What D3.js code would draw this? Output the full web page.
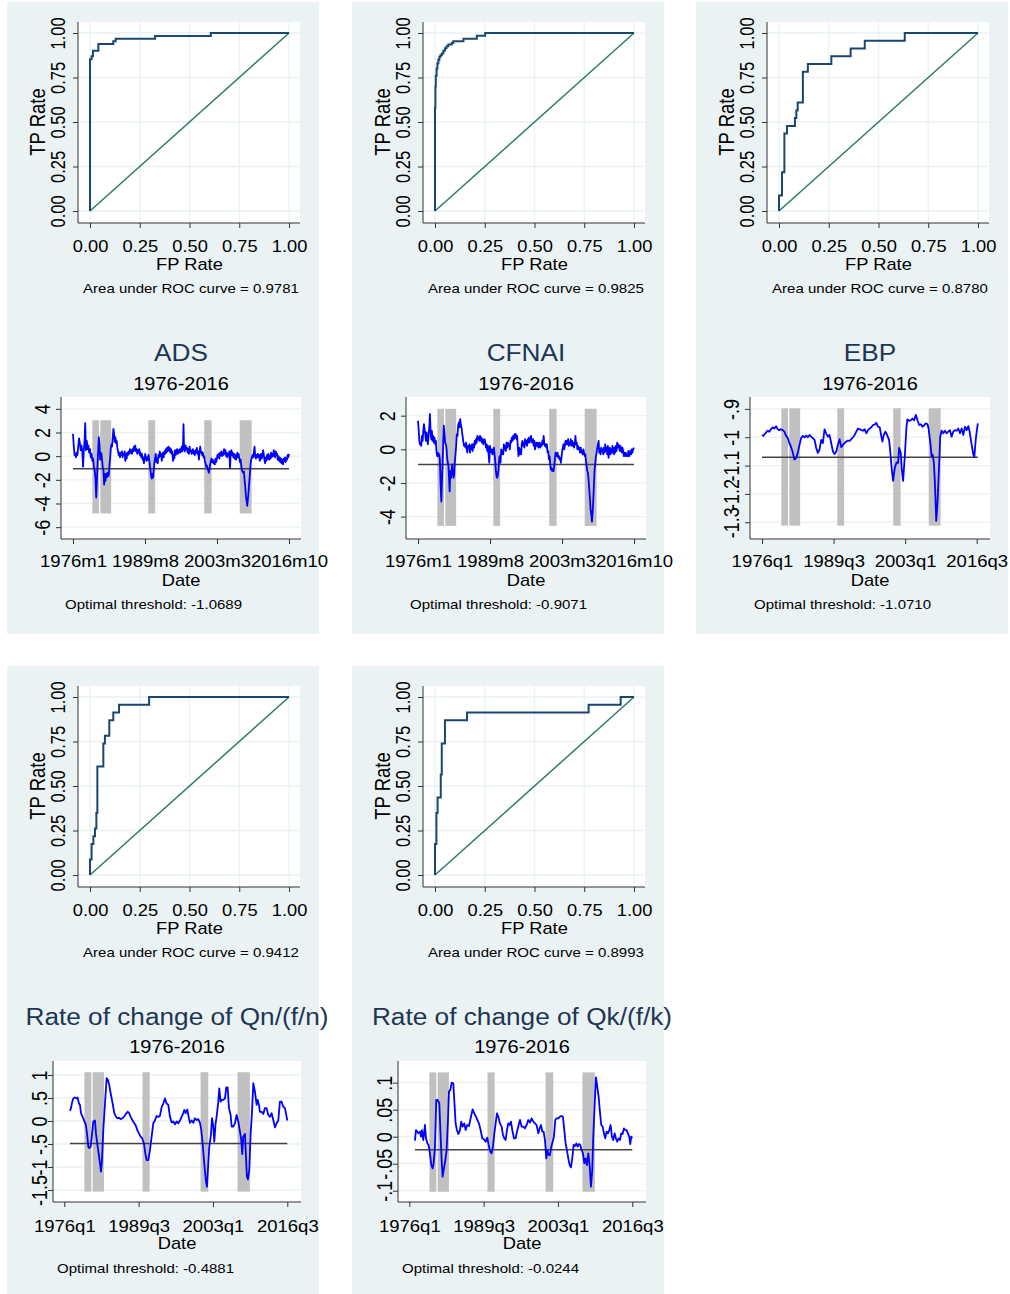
<!DOCTYPE html>
<html lang="en">
<head>
<meta charset="utf-8">
<title>ROC curves and recession indicators</title>
<script src="https://cdn.jsdelivr.net/npm/d3@7"></script>
<style>
  body { margin: 0; background: #fff; }
  text { font-family: "Liberation Sans", Arial, Helvetica, sans-serif; }
</style>
</head>
<body>
<script>
/* ---------- data ---------- */
/* ROC vertices [fp rate, tp rate] */
var rocADS = [[0,0],[0,0.852],[0.008,0.87],[0.015,0.9],[0.042,0.938],[0.117,0.953],[0.129,0.967],[0.327,0.983],[0.607,1],[1,1]];
var rocCFNAI = [[0,0],[0,0.58],[0.002,0.7],[0.004,0.76],[0.008,0.8],[0.012,0.83],[0.017,0.85],[0.022,0.865],[0.027,0.875],[0.034,0.885],[0.042,0.9],[0.05,0.915],[0.058,0.925],[0.067,0.936],[0.084,0.944],[0.092,0.953],[0.143,0.968],[0.21,0.985],[0.252,1],[1,1]];
var rocEBP = [[0,0],[0,0.087],[0.015,0.217],[0.027,0.435],[0.04,0.478],[0.08,0.522],[0.087,0.565],[0.094,0.609],[0.12,0.783],[0.145,0.826],[0.263,0.87],[0.36,0.913],[0.431,0.957],[0.632,1],[1,1]];
var rocQn = [[0,0],[0,0.087],[0.008,0.174],[0.017,0.217],[0.025,0.261],[0.032,0.348],[0.037,0.609],[0.067,0.739],[0.075,0.783],[0.097,0.87],[0.117,0.913],[0.146,0.957],[0.297,1],[1,1]];
var rocQk = [[0,0],[0,0.174],[0.007,0.348],[0.013,0.435],[0.029,0.565],[0.034,0.739],[0.05,0.87],[0.161,0.913],[0.772,0.957],[0.933,1],[1,1]];
var rocDiagonal = [[0,0],[1,1]];
var rocTicks = [0, 0.25, 0.5, 0.75, 1];
var aucLabels = ["0.9781", "0.9825", "0.8780", "0.9412", "0.8993"];

/* recession bands [start, end] in years */
var recessions = [[1979.65,1980.9],[1981.15,1983.2],[1990.2,1991.5],[2000.75,2002.15],[2007.45,2009.7]];

/* x ticks */
var monthTickVals = [1976, 1989.583, 2003.167, 2016.75];
var monthTickLabels = ["1976m1", "1989m8", "2003m3", "2016m10"];
var quarterTickVals = [1976, 1989.5, 2003, 2016.5];
var quarterTickLabels = ["1976q1", "1989q3", "2003q1", "2016q3"];

/* series [year, value] */
var adsSeries = [[1976.00,1.9],[1976.15,0.8],[1976.30,0.1],[1976.45,0.2],[1976.55,-0.1],[1976.70,0.3],[1976.85,0.1],[1977.00,0.9],[1977.15,1.5],[1977.30,1.1],[1977.45,0.5],[1977.60,0.9],[1977.75,0.4],[1977.90,-0.9],[1978.05,0.6],[1978.20,1.4],[1978.30,2.8],[1978.45,0.5],[1978.60,1.3],[1978.75,0.6],[1978.90,0.9],[1979.05,0.3],[1979.20,0.6],[1979.35,-0.1],[1979.50,0.2],[1979.65,-0.4],[1979.80,-0.2],[1979.95,-1.0],[1980.10,-1.2],[1980.25,-2.0],[1980.38,-3.5],[1980.50,-2.2],[1980.62,-0.8],[1980.75,0.5],[1980.87,1.6],[1981.00,1.0],[1981.12,-0.3],[1981.25,0.3],[1981.37,0.2],[1981.50,-0.4],[1981.62,-1.0],[1981.75,-1.2],[1981.87,-2.4],[1982.00,-1.5],[1982.12,-2.1],[1982.25,-1.5],[1982.37,-1.8],[1982.50,-1.4],[1982.62,-1.7],[1982.75,-1.6],[1982.87,-0.8],[1983.00,-0.2],[1983.12,0.6],[1983.25,1.0],[1983.37,0.8],[1983.50,1.6],[1983.62,2.3],[1983.75,1.9],[1983.87,1.2],[1984.00,1.6],[1984.12,1.1],[1984.25,1.3],[1984.37,0.7],[1984.50,0.4],[1984.62,0.1],[1984.75,0.3],[1984.87,-0.1],[1985.00,0.3],[1985.12,0.1],[1985.25,0.4],[1985.37,-0.1],[1985.50,0.2],[1985.62,0.1],[1985.75,0.4],[1985.87,-0.4],[1986.00,0.2],[1986.12,-0.2],[1986.25,0.3],[1986.37,0.1],[1986.50,0.4],[1986.62,0.2],[1986.75,0.6],[1986.87,0.3],[1987.00,0.5],[1987.12,0.2],[1987.25,0.6],[1987.37,0.4],[1987.50,0.8],[1987.62,0.5],[1987.75,0.9],[1987.87,0.4],[1988.00,0.6],[1988.12,0.2],[1988.25,0.5],[1988.37,0.3],[1988.50,0.6],[1988.62,0.1],[1988.75,0.3],[1988.87,-0.1],[1989.00,0.2],[1989.12,-0.3],[1989.25,-0.1],[1989.37,-0.6],[1989.50,-0.2],[1989.62,0.2],[1989.75,-0.1],[1989.87,-0.4],[1990.00,-0.1],[1990.12,-0.3],[1990.25,0.1],[1990.37,-0.3],[1990.50,-0.8],[1990.62,-1.2],[1990.75,-1.7],[1990.87,-1.9],[1991.00,-1.5],[1991.12,-1.8],[1991.25,-1.1],[1991.37,-0.5],[1991.50,-0.1],[1991.62,0.2],[1991.75,-0.5],[1991.87,-0.2],[1992.00,-0.6],[1992.12,0.1],[1992.25,-0.1],[1992.37,0.4],[1992.50,0.0],[1992.62,0.2],[1992.75,-0.4],[1992.87,0.1],[1993.00,0.3],[1993.12,-0.1],[1993.25,0.4],[1993.37,0.2],[1993.50,0.6],[1993.62,0.3],[1993.75,0.7],[1993.87,0.4],[1994.00,0.8],[1994.12,0.5],[1994.25,0.7],[1994.37,0.3],[1994.50,0.6],[1994.62,0.2],[1994.75,0.4],[1994.87,-0.4],[1995.00,0.1],[1995.12,-0.2],[1995.25,0.5],[1995.37,0.1],[1995.50,0.3],[1995.62,0.6],[1995.75,0.2],[1995.87,0.5],[1996.00,0.3],[1996.12,0.6],[1996.25,0.3],[1996.37,0.5],[1996.50,0.8],[1996.62,0.4],[1996.75,0.9],[1996.85,2.7],[1996.95,0.6],[1997.10,0.4],[1997.25,0.9],[1997.37,0.6],[1997.50,0.7],[1997.62,0.3],[1997.75,0.6],[1997.87,0.2],[1998.00,0.8],[1998.12,0.4],[1998.25,0.5],[1998.37,0.2],[1998.50,0.3],[1998.62,0.6],[1998.75,0.2],[1998.87,0.4],[1999.00,0.1],[1999.12,0.5],[1999.25,0.3],[1999.37,0.7],[1999.50,0.2],[1999.62,0.4],[1999.75,-0.3],[1999.87,0.3],[2000.00,0.8],[2000.12,0.3],[2000.25,0.4],[2000.37,0.1],[2000.50,0.3],[2000.62,-0.1],[2000.75,0.0],[2000.87,-0.4],[2001.00,-0.6],[2001.12,-0.9],[2001.25,-0.8],[2001.37,-1.0],[2001.50,-1.2],[2001.62,-1.4],[2001.75,-1.1],[2001.87,-0.7],[2002.00,-0.4],[2002.12,-0.2],[2002.25,-0.5],[2002.37,-0.3],[2002.50,-0.6],[2002.62,-0.5],[2002.75,-0.7],[2002.87,-0.2],[2003.00,-0.5],[2003.12,-0.3],[2003.25,0.1],[2003.37,-0.1],[2003.50,0.2],[2003.62,-0.2],[2003.75,0.3],[2003.87,0.1],[2004.00,0.4],[2004.12,0.0],[2004.25,0.3],[2004.37,0.1],[2004.50,0.6],[2004.62,0.2],[2004.75,0.5],[2004.87,0.0],[2005.00,0.3],[2005.12,-0.1],[2005.25,0.2],[2005.37,0.1],[2005.50,0.4],[2005.62,-1.0],[2005.75,0.2],[2005.87,0.5],[2006.00,0.1],[2006.12,0.3],[2006.25,-0.1],[2006.37,0.2],[2006.50,-0.2],[2006.62,0.1],[2006.75,-0.3],[2006.87,0.0],[2007.00,0.3],[2007.12,-0.1],[2007.25,0.2],[2007.37,-0.2],[2007.50,-0.5],[2007.62,-0.3],[2007.75,-0.8],[2007.87,-1.2],[2008.00,-1.3],[2008.12,-1.4],[2008.25,-1.3],[2008.37,-2.0],[2008.50,-2.6],[2008.62,-3.4],[2008.75,-3.8],[2008.87,-4.2],[2009.00,-3.6],[2009.12,-3.0],[2009.25,-2.2],[2009.37,-1.5],[2009.50,-0.7],[2009.62,-0.3],[2009.75,-0.1],[2009.87,0.1],[2010.00,-0.1],[2010.12,0.3],[2010.25,0.8],[2010.37,0.0],[2010.50,-0.2],[2010.62,0.1],[2010.75,-0.1],[2010.87,0.2],[2011.00,-0.1],[2011.12,0.1],[2011.25,-0.4],[2011.37,-0.1],[2011.50,0.2],[2011.62,-0.2],[2011.75,0.1],[2011.87,0.5],[2012.00,0.1],[2012.12,-0.3],[2012.25,-0.6],[2012.37,-0.1],[2012.50,-0.4],[2012.62,0.1],[2012.75,-0.2],[2012.87,0.2],[2013.00,-0.3],[2013.12,0.0],[2013.25,-0.2],[2013.37,0.3],[2013.50,-0.1],[2013.62,0.2],[2013.75,0.0],[2013.87,0.5],[2014.00,0.3],[2014.12,-0.1],[2014.25,0.4],[2014.37,0.1],[2014.50,0.2],[2014.62,-0.3],[2014.75,0.0],[2014.87,-0.4],[2015.00,-0.1],[2015.12,-0.5],[2015.25,-0.2],[2015.37,-0.6],[2015.50,-0.3],[2015.62,-0.7],[2015.75,-0.2],[2015.87,-0.4],[2016.00,-0.1],[2016.12,-0.5],[2016.25,-0.2],[2016.37,-0.3],[2016.50,0.1],[2016.62,-0.1],[2016.75,0.2]];

var cfnaiSeries = [[1976.00,1.7],[1976.12,1.2],[1976.25,0.5],[1976.37,0.3],[1976.50,0.4],[1976.62,0.2],[1976.75,0.8],[1976.87,0.5],[1977.00,1.1],[1977.12,1.5],[1977.25,1.2],[1977.37,0.9],[1977.50,0.5],[1977.62,1.0],[1977.75,0.6],[1977.87,0.3],[1978.00,0.8],[1978.12,1.3],[1978.25,2.1],[1978.37,1.1],[1978.50,0.6],[1978.62,1.1],[1978.75,0.5],[1978.87,0.8],[1979.00,0.4],[1979.12,0.7],[1979.25,0.3],[1979.37,0.5],[1979.50,-0.2],[1979.62,-0.4],[1979.75,-0.2],[1979.87,-0.4],[1980.00,-0.3],[1980.12,-0.6],[1980.25,-2.0],[1980.40,-3.1],[1980.52,-1.8],[1980.62,-1.0],[1980.75,0.3],[1980.87,1.4],[1981.00,0.9],[1981.12,0.4],[1981.25,0.3],[1981.37,0.1],[1981.50,-0.5],[1981.62,-0.8],[1981.75,-1.0],[1981.87,-1.8],[1981.97,-2.5],[1982.10,-1.3],[1982.22,-1.7],[1982.35,-1.2],[1982.45,-0.9],[1982.57,-1.4],[1982.70,-1.7],[1982.82,-1.5],[1982.95,-0.7],[1983.07,-0.3],[1983.20,0.2],[1983.32,0.9],[1983.45,0.8],[1983.57,1.4],[1983.70,1.6],[1983.82,1.3],[1983.95,1.8],[1984.07,1.5],[1984.20,1.3],[1984.32,1.0],[1984.45,0.7],[1984.57,0.4],[1984.70,0.2],[1984.82,0.3],[1984.95,0.1],[1985.07,0.4],[1985.20,0.0],[1985.32,-0.2],[1985.45,0.2],[1985.57,0.1],[1985.70,0.3],[1985.82,-0.2],[1985.95,0.2],[1986.07,0.0],[1986.20,0.3],[1986.32,-0.1],[1986.45,0.3],[1986.57,0.1],[1986.70,0.5],[1986.82,0.3],[1986.95,0.6],[1987.07,0.4],[1987.20,0.8],[1987.32,0.6],[1987.45,0.7],[1987.57,0.5],[1987.70,0.8],[1987.82,0.5],[1987.95,0.7],[1988.07,0.4],[1988.20,0.6],[1988.32,0.3],[1988.45,0.5],[1988.57,0.6],[1988.70,0.4],[1988.82,0.1],[1988.95,0.3],[1989.07,-0.1],[1989.20,0.2],[1989.32,-0.3],[1989.45,-0.8],[1989.57,0.2],[1989.70,-0.1],[1989.82,-0.2],[1989.95,0.0],[1990.07,-0.3],[1990.20,-0.2],[1990.32,0.1],[1990.45,-0.3],[1990.57,-0.7],[1990.70,-1.3],[1990.82,-1.6],[1990.95,-1.7],[1991.07,-1.5],[1991.20,-1.2],[1991.32,-0.5],[1991.45,-0.4],[1991.57,-0.8],[1991.70,0.0],[1991.82,-0.3],[1991.95,-0.1],[1992.07,-0.3],[1992.20,0.3],[1992.32,0.0],[1992.45,0.2],[1992.57,-0.1],[1992.70,0.4],[1992.82,0.1],[1992.95,0.4],[1993.07,0.2],[1993.20,0.3],[1993.32,0.0],[1993.45,0.5],[1993.57,0.4],[1993.70,0.7],[1993.82,0.5],[1993.95,0.8],[1994.07,0.6],[1994.20,0.9],[1994.32,0.7],[1994.45,0.9],[1994.57,0.6],[1994.70,0.8],[1994.82,0.2],[1994.95,-0.4],[1995.07,0.1],[1995.20,-0.3],[1995.32,0.0],[1995.45,-0.3],[1995.57,0.3],[1995.70,0.5],[1995.82,0.2],[1995.95,0.4],[1996.07,0.1],[1996.20,0.6],[1996.32,0.3],[1996.45,0.5],[1996.57,0.2],[1996.70,0.6],[1996.82,0.4],[1996.95,0.7],[1997.07,0.4],[1997.20,0.6],[1997.32,0.8],[1997.45,0.5],[1997.57,0.4],[1997.70,0.6],[1997.82,0.2],[1997.95,0.5],[1998.07,0.0],[1998.20,0.3],[1998.32,0.4],[1998.45,0.2],[1998.57,0.4],[1998.70,0.1],[1998.82,0.3],[1998.95,0.4],[1999.07,0.1],[1999.20,0.3],[1999.32,0.2],[1999.45,0.5],[1999.57,0.3],[1999.70,0.8],[1999.82,0.4],[1999.95,0.2],[2000.07,0.3],[2000.20,0.1],[2000.32,0.3],[2000.45,-0.2],[2000.57,-0.1],[2000.70,-0.6],[2000.82,-0.4],[2000.95,-0.9],[2001.07,-1.2],[2001.20,-1.1],[2001.32,-1.3],[2001.45,-1.2],[2001.57,-1.3],[2001.70,-1.0],[2001.82,-0.6],[2001.95,-0.2],[2002.07,-0.3],[2002.20,-0.4],[2002.32,-0.2],[2002.45,-0.5],[2002.57,-0.4],[2002.70,-0.6],[2002.82,-0.5],[2002.95,-0.8],[2003.07,-0.5],[2003.20,-0.1],[2003.32,0.1],[2003.45,0.3],[2003.57,0.0],[2003.70,0.2],[2003.82,0.5],[2003.95,0.3],[2004.07,0.5],[2004.20,0.3],[2004.32,0.6],[2004.45,0.2],[2004.57,0.4],[2004.70,0.3],[2004.82,0.6],[2004.95,0.2],[2005.07,0.5],[2005.20,0.2],[2005.32,0.4],[2005.45,0.1],[2005.57,0.3],[2005.70,0.8],[2005.82,0.3],[2005.95,0.4],[2006.07,0.0],[2006.20,0.2],[2006.32,0.0],[2006.45,0.1],[2006.57,-0.2],[2006.70,0.1],[2006.82,-0.2],[2006.95,-0.1],[2007.07,-0.3],[2007.20,0.0],[2007.32,-0.2],[2007.45,-0.4],[2007.57,-0.3],[2007.70,-0.7],[2007.82,-1.0],[2007.95,-1.3],[2008.07,-1.4],[2008.20,-1.9],[2008.32,-2.4],[2008.45,-3.0],[2008.57,-3.6],[2008.70,-3.9],[2008.82,-4.3],[2008.95,-3.7],[2009.07,-3.0],[2009.20,-2.0],[2009.32,-1.2],[2009.45,-0.8],[2009.57,-0.4],[2009.70,-0.2],[2009.82,0.1],[2009.95,0.3],[2010.07,0.5],[2010.20,-0.2],[2010.32,0.0],[2010.45,-0.3],[2010.57,0.1],[2010.70,-0.1],[2010.82,0.0],[2010.95,-0.3],[2011.07,0.1],[2011.20,-0.2],[2011.32,0.3],[2011.45,-0.1],[2011.57,0.1],[2011.70,-0.3],[2011.82,0.2],[2011.95,-0.5],[2012.07,-0.1],[2012.20,0.1],[2012.32,-0.3],[2012.45,0.0],[2012.57,-0.2],[2012.70,0.2],[2012.82,-0.1],[2012.95,-0.3],[2013.07,0.1],[2013.20,-0.2],[2013.32,0.2],[2013.45,-0.1],[2013.57,0.4],[2013.70,0.1],[2013.82,0.3],[2013.95,0.2],[2014.07,-0.1],[2014.20,0.2],[2014.32,0.0],[2014.45,-0.2],[2014.57,0.1],[2014.70,-0.1],[2014.82,-0.4],[2014.95,-0.2],[2015.07,-0.4],[2015.20,-0.2],[2015.32,-0.4],[2015.45,-0.3],[2015.57,-0.4],[2015.70,-0.1],[2015.82,-0.4],[2015.95,-0.3],[2016.07,-0.1],[2016.20,-0.3],[2016.32,0.0],[2016.45,-0.2],[2016.57,0.0],[2016.75,0.1]];

var ebpSeries = [[1976.00,-0.992],[1976.25,-0.995],[1976.63,-0.986],[1977.07,-0.977],[1977.39,-0.981],[1977.70,-0.971],[1978.02,-0.965],[1978.33,-0.969],[1978.65,-0.961],[1978.97,-0.972],[1979.28,-0.975],[1979.60,-0.972],[1979.91,-0.975],[1980.23,-0.980],[1980.54,-0.995],[1980.86,-1.003],[1981.17,-1.021],[1981.49,-1.035],[1981.80,-1.053],[1982.12,-1.079],[1982.44,-1.073],[1982.75,-1.055],[1983.07,-1.027],[1983.38,-1.003],[1983.70,-0.995],[1984.01,-1.000],[1984.33,-0.994],[1984.64,-1.000],[1984.96,-0.992],[1985.27,-0.998],[1985.59,-1.003],[1985.91,-1.009],[1986.22,-1.038],[1986.54,-1.055],[1986.85,-1.044],[1987.17,-1.009],[1987.48,-1.021],[1987.80,-0.972],[1988.11,-0.986],[1988.43,-0.998],[1988.74,-0.992],[1989.06,-1.021],[1989.38,-1.050],[1989.69,-1.059],[1990.01,-1.050],[1990.32,-1.027],[1990.64,-1.007],[1990.95,-1.035],[1991.27,-1.027],[1991.58,-1.021],[1991.90,-1.015],[1992.21,-1.012],[1992.53,-1.013],[1992.85,-1.007],[1993.16,-1.000],[1993.48,-0.992],[1993.79,-0.980],[1994.11,-0.969],[1994.42,-0.972],[1994.74,-0.975],[1995.05,-0.977],[1995.37,-0.972],[1995.68,-0.986],[1996.00,-0.975],[1996.32,-0.969],[1996.63,-0.965],[1996.95,-0.957],[1997.26,-0.955],[1997.58,-0.949],[1997.89,-0.963],[1998.21,-0.965],[1998.52,-0.998],[1998.71,-1.015],[1998.97,-0.992],[1999.28,-0.980],[1999.60,-0.992],[1999.97,-1.009],[2000.23,-1.055],[2000.48,-1.113],[2000.73,-1.154],[2001.05,-1.108],[2001.36,-1.090],[2001.68,-1.090],[2001.87,-1.038],[2002.18,-1.055],[2002.37,-1.113],[2002.62,-1.154],[2002.94,-1.067],[2003.26,-0.963],[2003.44,-0.937],[2003.76,-0.942],[2004.08,-0.940],[2004.39,-0.934],[2004.71,-0.940],[2005.02,-0.921],[2005.34,-0.940],[2005.65,-0.957],[2005.97,-0.954],[2006.28,-0.963],[2006.60,-0.957],[2006.91,-0.951],[2007.23,-0.954],[2007.42,-0.969],[2007.80,-1.027],[2007.99,-1.067],[2008.18,-1.061],[2008.43,-1.090],[2008.62,-1.160],[2008.87,-1.295],[2009.12,-1.229],[2009.38,-1.113],[2009.63,-0.998],[2009.88,-0.977],[2010.20,-0.986],[2010.51,-0.977],[2010.83,-0.986],[2011.14,-0.980],[2011.46,-0.975],[2011.77,-0.998],[2012.09,-0.980],[2012.40,-0.975],[2012.72,-0.977],[2013.03,-0.969],[2013.35,-0.986],[2013.67,-0.969],[2013.98,-0.992],[2014.30,-0.963],[2014.61,-0.975],[2014.93,-0.961],[2015.12,-0.975],[2015.56,-1.027],[2015.87,-1.061],[2016.06,-1.069],[2016.32,-1.009],[2016.50,-0.980],[2016.72,-0.951]];

var qnSeries = [[1977.03,0.22],[1977.21,0.28],[1977.45,0.42],[1977.63,0.49],[1977.94,0.51],[1978.24,0.49],[1978.42,0.51],[1978.66,0.38],[1978.84,0.35],[1979.03,0.17],[1979.33,0.09],[1979.57,0.02],[1979.93,-0.09],[1980.18,-0.34],[1980.36,-0.56],[1980.54,-0.59],[1980.78,-0.56],[1980.96,-0.38],[1981.27,-0.01],[1981.57,0.01],[1981.75,-0.27],[1981.99,-0.49],[1982.23,-0.70],[1982.48,-0.92],[1982.66,-1.10],[1982.84,-0.85],[1983.08,-0.20],[1983.39,0.38],[1983.69,0.93],[1983.93,0.89],[1984.17,0.78],[1984.47,0.57],[1984.78,0.38],[1985.08,0.17],[1985.32,0.11],[1985.62,0.06],[1985.93,0.07],[1986.23,0.04],[1986.53,0.06],[1986.84,0.09],[1987.14,0.15],[1987.50,0.20],[1987.74,0.18],[1988.05,0.09],[1988.35,0.02],[1988.65,-0.04],[1988.95,-0.09],[1989.26,-0.20],[1989.56,-0.27],[1989.86,-0.34],[1990.16,-0.38],[1990.47,-0.49],[1990.71,-0.70],[1990.95,-0.85],[1991.25,-0.85],[1991.56,-0.63],[1991.86,-0.34],[1992.16,-0.05],[1992.46,0.01],[1992.77,0.11],[1993.07,0.09],[1993.37,0.11],[1993.68,0.30],[1993.98,0.38],[1994.28,0.49],[1994.58,0.38],[1994.89,0.35],[1995.19,0.09],[1995.49,-0.03],[1995.79,-0.01],[1996.10,-0.07],[1996.40,-0.01],[1996.70,-0.05],[1997.00,0.01],[1997.31,0.09],[1997.61,0.17],[1997.79,0.24],[1998.03,0.17],[1998.34,0.25],[1998.58,0.09],[1998.82,-0.04],[1999.12,0.01],[1999.43,-0.04],[1999.73,0.06],[2000.03,0.02],[2000.33,0.04],[2000.64,-0.04],[2000.88,-0.20],[2001.12,-0.49],[2001.42,-0.92],[2001.73,-1.32],[2001.91,-1.43],[2002.15,-0.92],[2002.33,-0.56],[2002.63,-0.30],[2002.82,0.06],[2003.06,-0.12],[2003.24,-0.45],[2003.48,-0.05],[2003.66,0.09],[2003.97,0.42],[2004.15,0.71],[2004.39,0.42],[2004.63,0.46],[2004.87,0.46],[2005.18,0.49],[2005.42,0.73],[2005.66,0.73],[2005.90,0.28],[2006.21,0.13],[2006.39,-0.12],[2006.69,-0.12],[2006.99,-0.05],[2007.30,0.13],[2007.60,-0.01],[2007.90,-0.23],[2008.14,-0.41],[2008.32,-0.72],[2008.50,-0.34],[2008.81,-0.28],[2008.99,-0.78],[2009.17,-1.21],[2009.35,-1.27],[2009.60,-1.07],[2009.84,-0.27],[2010.08,0.17],[2010.32,0.82],[2010.62,0.64],[2010.93,0.35],[2011.11,0.46],[2011.35,0.35],[2011.53,0.20],[2011.83,0.20],[2012.14,0.15],[2012.44,0.28],[2012.74,0.28],[2013.05,0.13],[2013.35,0.09],[2013.65,0.17],[2013.96,0.02],[2014.26,-0.14],[2014.56,-0.05],[2014.86,0.01],[2015.16,0.42],[2015.47,0.42],[2015.77,0.31],[2016.07,0.28],[2016.25,0.17],[2016.50,0.01]];

var qkSeries = [[1977.03,-0.0074],[1977.21,0.0123],[1977.45,0.0093],[1977.63,0.0062],[1977.94,0.0093],[1978.12,0.0],[1978.30,0.0123],[1978.54,-0.0062],[1978.84,0.0216],[1979.03,-0.003],[1979.27,-0.0123],[1979.51,-0.0154],[1979.75,-0.0309],[1980.00,-0.0525],[1980.24,-0.0586],[1980.42,-0.0494],[1980.66,-0.0185],[1980.90,0.0679],[1981.14,0.0679],[1981.45,0.0617],[1981.69,0.0],[1981.87,-0.0432],[1982.05,-0.0741],[1982.30,-0.0586],[1982.54,-0.0432],[1982.78,-0.0247],[1983.02,0.0309],[1983.20,0.0833],[1983.45,0.0864],[1983.69,0.1],[1983.99,0.0988],[1984.17,0.0679],[1984.41,0.0247],[1984.65,0.0123],[1984.90,0.0049],[1985.20,0.0123],[1985.44,0.0278],[1985.68,0.0185],[1985.99,0.0247],[1986.23,0.0123],[1986.53,0.0216],[1986.84,0.0198],[1987.20,0.037],[1987.50,0.0506],[1987.80,0.0432],[1988.11,0.037],[1988.41,0.0296],[1988.65,0.0247],[1988.95,0.0123],[1989.26,-0.003],[1989.56,-0.0049],[1989.86,-0.0093],[1990.16,-0.0019],[1990.41,-0.0154],[1990.71,-0.0278],[1990.95,-0.0309],[1991.19,-0.0185],[1991.44,0.0062],[1991.68,0.0247],[1991.92,0.0432],[1992.16,0.037],[1992.46,0.0247],[1992.77,0.0185],[1993.01,0.0031],[1993.25,-0.003],[1993.49,-0.0062],[1993.74,0.0123],[1993.98,0.0247],[1994.22,0.0216],[1994.46,0.0278],[1994.70,0.0123],[1995.01,-0.003],[1995.31,-0.003],[1995.55,0.0093],[1995.79,0.0185],[1996.10,0.0309],[1996.40,0.0185],[1996.70,0.0185],[1997.00,0.0154],[1997.31,0.0216],[1997.61,0.0309],[1997.91,0.026],[1998.21,0.034],[1998.52,0.0278],[1998.82,0.0247],[1999.12,0.0216],[1999.43,0.0062],[1999.67,0.0154],[1999.91,0.0216],[2000.15,0.0093],[2000.39,0.0093],[2000.64,-0.0062],[2000.88,-0.0401],[2001.06,-0.0247],[2001.30,-0.034],[2001.54,-0.034],[2001.79,-0.0185],[2002.03,-0.0093],[2002.27,0.0],[2002.51,0.0309],[2002.75,0.034],[2003.06,0.034],[2003.36,0.037],[2003.66,0.0383],[2003.90,0.037],[2004.15,0.0123],[2004.39,-0.0123],[2004.63,-0.0247],[2004.87,-0.0401],[2005.12,-0.0525],[2005.36,-0.0568],[2005.60,-0.0401],[2005.84,-0.0154],[2006.08,-0.0173],[2006.33,-0.0123],[2006.57,-0.0185],[2006.81,-0.0136],[2007.05,-0.0154],[2007.29,-0.0247],[2007.54,-0.0309],[2007.78,-0.0494],[2008.02,-0.0401],[2008.26,-0.0525],[2008.50,-0.0309],[2008.75,-0.0525],[2008.99,-0.0926],[2009.23,-0.0617],[2009.41,0.0],[2009.65,0.0556],[2009.90,0.1099],[2010.14,0.0926],[2010.38,0.0741],[2010.62,0.0463],[2010.86,0.0216],[2011.11,0.0185],[2011.35,0.0062],[2011.59,-0.003],[2011.83,0.0093],[2012.07,0.0062],[2012.32,0.0123],[2012.56,0.0216],[2012.80,0.0],[2013.05,-0.0062],[2013.29,0.0062],[2013.53,-0.003],[2013.77,-0.0093],[2014.01,-0.003],[2014.26,-0.0062],[2014.50,0.0062],[2014.74,0.0049],[2014.98,0.0154],[2015.22,0.0123],[2015.47,0.0123],[2015.71,0.0062],[2015.95,0.0],[2016.13,-0.0136],[2016.31,0.0],[2016.50,-0.003]];

/* y ticks and labels */
var adsTicks = [-6, -4, -2, 0, 2, 4];
var cfnaiTicks = [-4, -2, 0, 2];
var ebpTicks = [-1.3, -1.2, -1.1, -1, -0.9];
var ebpTickLabels = ["-1.3", "-1.2", "-1.1", "-1", "-.9"];
var qnTicks = [-1.5, -1, -0.5, 0, 0.5, 1];
var qnTickLabels = ["-1.5", "-1", "-.5", "0", ".5", "1"];
var qkTicks = [-0.1, -0.05, 0, 0.05, 0.1];
var qkTickLabels = ["-.1", "-.05", "0", ".05", ".1"];

var thresholds = [-1.0689, -0.9071, -1.0710, -0.4881, -0.0244];
var thresholdLabels = ["-1.0689", "-0.9071", "-1.0710", "-0.4881", "-0.0244"];
var titles = ["ADS", "CFNAI", "EBP", "Rate of change of Qn/(f/n)", "Rate of change of Qk/(f/k)"];

/* ---------- look ---------- */
var BG = "#eaf2f3", GRID = "#eaf2f3", AXIS = "#333333";
var NAVY = "#1a476f", TEAL = "#2f7a6a", BAND = "#c0c0c0";
var TITLE = "#1e3656";
var SX = 1.13;   /* sideways stretch of flat text */
var SXR = 1.22;  /* sideways stretch of rotated text */
var colX = [0, 345, 689];

var svg = d3.select("body").append("svg").attr("width", 1010).attr("height", 1294);

/* the stata output is stretched sideways a little, so the text is too */
function label(g, x, y, str, size, anchor, rot, fill) {
    return g.append("text")
        .attr("transform", "translate(" + x + "," + y + ") scale(" + (rot ? SXR : SX) + ",1)" + (rot ? " rotate(" + rot + ")" : ""))
        .attr("text-anchor", anchor || "middle")
        .attr("fill", fill || "#000")
        .style("font-size", size + "px")
        .text(str);
}

function styleAxis(a, left, off, size) {
    a.select(".domain").remove();
    a.selectAll(".tick line").attr("stroke", AXIS);
    a.selectAll(".tick text")
        .attr("x", null).attr("y", null).attr("dy", null)
        .attr("text-anchor", "middle").attr("fill", "#000")
        .style("font-size", size + "px")
        .style("font-family", '"Liberation Sans", Arial, sans-serif')
        .attr("transform", left ? "translate(" + off + ",0) scale(" + SXR + ",1) rotate(-90)"
                                : "translate(0," + off + ") scale(" + SX + ",1)");
}

/* panel backgrounds */
[[0, 2, 632], [1, 2, 632], [2, 2, 632], [0, 666, 628], [1, 666, 628]].forEach(function (b) {
    svg.append("rect").attr("x", colX[b[0]] + 7).attr("y", b[1])
        .attr("width", 312).attr("height", b[2]).attr("fill", BG);
});

/* ---------- ROC panels ---------- */
function drawROC(ox, oy, pts, auc) {
    var g = svg.append("g").attr("transform", "translate(" + ox + "," + oy + ")");
    var x = d3.scaleLinear().domain([0, 1]).range([90, 289]);
    var y = d3.scaleLinear().domain([0, 1]).range([211, 33]);
    g.append("rect").attr("x", 78).attr("y", 22).attr("width", 222).attr("height", 201).attr("fill", "#fff");
    g.selectAll(".vg").data(rocTicks).enter().append("line")
        .attr("x1", function (d) { return x(d); }).attr("x2", function (d) { return x(d); })
        .attr("y1", 22).attr("y2", 223).attr("stroke", GRID).attr("stroke-width", 1.3);
    g.selectAll(".hg").data(rocTicks).enter().append("line")
        .attr("y1", function (d) { return y(d); }).attr("y2", function (d) { return y(d); })
        .attr("x1", 78).attr("x2", 300).attr("stroke", GRID).attr("stroke-width", 1.3);

    var line = d3.line().x(function (d) { return x(d[0]); }).y(function (d) { return y(d[1]); });
    g.append("path").datum(rocDiagonal).attr("d", line)
        .attr("fill", "none").attr("stroke", TEAL).attr("stroke-width", 1.5);
    g.append("path").datum(pts).attr("d", line.curve(d3.curveStepAfter))
        .attr("fill", "none").attr("stroke", NAVY).attr("stroke-width", 2);

    var ya = g.append("g").attr("transform", "translate(78,0)")
        .call(d3.axisLeft(y).tickValues(rocTicks).tickFormat(d3.format(".2f")).tickSize(5).tickSizeOuter(0));
    styleAxis(ya, true, -13, 16.5);
    var xa = g.append("g").attr("transform", "translate(0,223)")
        .call(d3.axisBottom(x).tickValues(rocTicks).tickFormat(d3.format(".2f")).tickSize(5).tickSizeOuter(0));
    styleAxis(xa, false, 29, 16.2);
    g.append("line").attr("x1", 78).attr("x2", 78).attr("y1", 22).attr("y2", 223).attr("stroke", AXIS);
    g.append("line").attr("x1", 78).attr("x2", 300).attr("y1", 223).attr("y2", 223).attr("stroke", AXIS);

    label(g, 45, 122, "TP Rate", 18.5, "middle", -90);
    label(g, 189.5, 270, "FP Rate", 16.2);
    label(g, 83, 293, "Area under ROC curve = " + auc, 13.3, "start");
}

drawROC(colX[0], 0, rocADS, aucLabels[0]);
drawROC(colX[1], 0, rocCFNAI, aucLabels[1]);
drawROC(colX[2], 0, rocEBP, aucLabels[2]);
drawROC(colX[0], 664, rocQn, aucLabels[3]);
drawROC(colX[1], 664, rocQk, aucLabels[4]);

/* ---------- indicator panels ---------- */
var row1 = { left: 61, right: 301, top: 397, bottom: 539, xr: [73, 289], xd: [1976, 2016.75],
             yOff: -11, xOff: 28, titleY: 361, subY: 390, dateY: 586, noteX: 65, noteY: 609 };
var row2 = { left: 53, right: 301, top: 1061, bottom: 1202, xr: [64.3, 287.3], xd: [1976, 2016.5],
             yOff: -6, xOff: 30, titleY: 1025, subY: 1053, dateY: 1249, noteX: 57, noteY: 1273 };

var indicators = [
    { col: 0, geo: row1, data: adsSeries, yd: [-7, 5], band: [-4.84, 3.04], ticks: adsTicks, tickLabels: null,
      xv: monthTickVals, xl: monthTickLabels, k: 0 },
    { col: 1, geo: row1, data: cfnaiSeries, yd: [-5.33, 3.11], band: [-4.55, 2.41], ticks: cfnaiTicks, tickLabels: null,
      xv: monthTickVals, xl: monthTickLabels, k: 1 },
    { col: 2, geo: row1, data: ebpSeries, yd: [-1.359, -0.858], band: [-1.312, -0.898], ticks: ebpTicks, tickLabels: ebpTickLabels,
      xv: quarterTickVals, xl: quarterTickLabels, k: 2 },
    { col: 0, geo: row2, data: qnSeries, yd: [-1.761, 1.304], band: [-1.536, 1.06], ticks: qnTicks, tickLabels: qnTickLabels,
      xv: quarterTickVals, xl: quarterTickLabels, k: 3 },
    { col: 1, geo: row2, data: qkSeries, yd: [-0.1209, 0.1401], band: [-0.102, 0.119], ticks: qkTicks, tickLabels: qkTickLabels,
      xv: quarterTickVals, xl: quarterTickLabels, k: 4 }
];

indicators.forEach(function (p) {
    var G = p.geo;
    var g = svg.append("g").attr("transform", "translate(" + colX[p.col] + ",0)");
    var x = d3.scaleLinear().domain(G.xd).range(G.xr);
    var y = d3.scaleLinear().domain(p.yd).range([G.bottom, G.top]);

    g.append("rect").attr("x", G.left).attr("y", G.top)
        .attr("width", G.right - G.left).attr("height", G.bottom - G.top).attr("fill", "#fff");
    g.selectAll(".hg").data(p.ticks).enter().append("line")
        .attr("x1", G.left).attr("x2", G.right)
        .attr("y1", function (d) { return y(d); }).attr("y2", function (d) { return y(d); })
        .attr("stroke", GRID).attr("stroke-width", 1.3);

    g.selectAll(".band").data(recessions).enter().append("rect")
        .attr("x", function (d) { return x(d[0]); })
        .attr("width", function (d) { return x(d[1]) - x(d[0]); })
        .attr("y", y(p.band[1])).attr("height", y(p.band[0]) - y(p.band[1]))
        .attr("fill", BAND);

    var ext = d3.extent(p.data, function (d) { return d[0]; });
    g.append("line").attr("x1", x(ext[0])).attr("x2", x(ext[1]))
        .attr("y1", y(thresholds[p.k])).attr("y2", y(thresholds[p.k]))
        .attr("stroke", "#444444").attr("stroke-width", 1.5);

    g.append("path").datum(p.data)
        .attr("d", d3.line().x(function (d) { return x(d[0]); }).y(function (d) { return y(d[1]); }))
        .attr("fill", "none").attr("stroke", "#0000ff").attr("stroke-width", 1.8)
        .attr("stroke-linejoin", "round");

    var ya = g.append("g").attr("transform", "translate(" + G.left + ",0)")
        .call(d3.axisLeft(y).tickValues(p.ticks).tickSize(5).tickSizeOuter(0)
            .tickFormat(function (d, i) { return p.tickLabels ? p.tickLabels[i] : String(d); }));
    styleAxis(ya, true, G.yOff, 18);
    var xa = g.append("g").attr("transform", "translate(0," + G.bottom + ")")
        .call(d3.axisBottom(x).tickValues(p.xv).tickSize(5).tickSizeOuter(0)
            .tickFormat(function (d, i) { return p.xl[i]; }));
    styleAxis(xa, false, G.xOff, 16.4);
    g.append("line").attr("x1", G.left).attr("x2", G.left).attr("y1", G.top).attr("y2", G.bottom).attr("stroke", AXIS);
    g.append("line").attr("x1", G.left).attr("x2", G.right).attr("y1", G.bottom).attr("y2", G.bottom).attr("stroke", AXIS);

    var cx = (G.left + G.right) / 2;
    label(g, cx, G.titleY, titles[p.k], 23.2, "middle", 0, TITLE);
    label(g, cx, G.subY, "1976-2016", 17.7);
    label(g, cx, G.dateY, "Date", 16.2);
    label(g, G.noteX, G.noteY, "Optimal threshold: " + thresholdLabels[p.k], 13.3, "start");
});
</script>
</body>
</html>
